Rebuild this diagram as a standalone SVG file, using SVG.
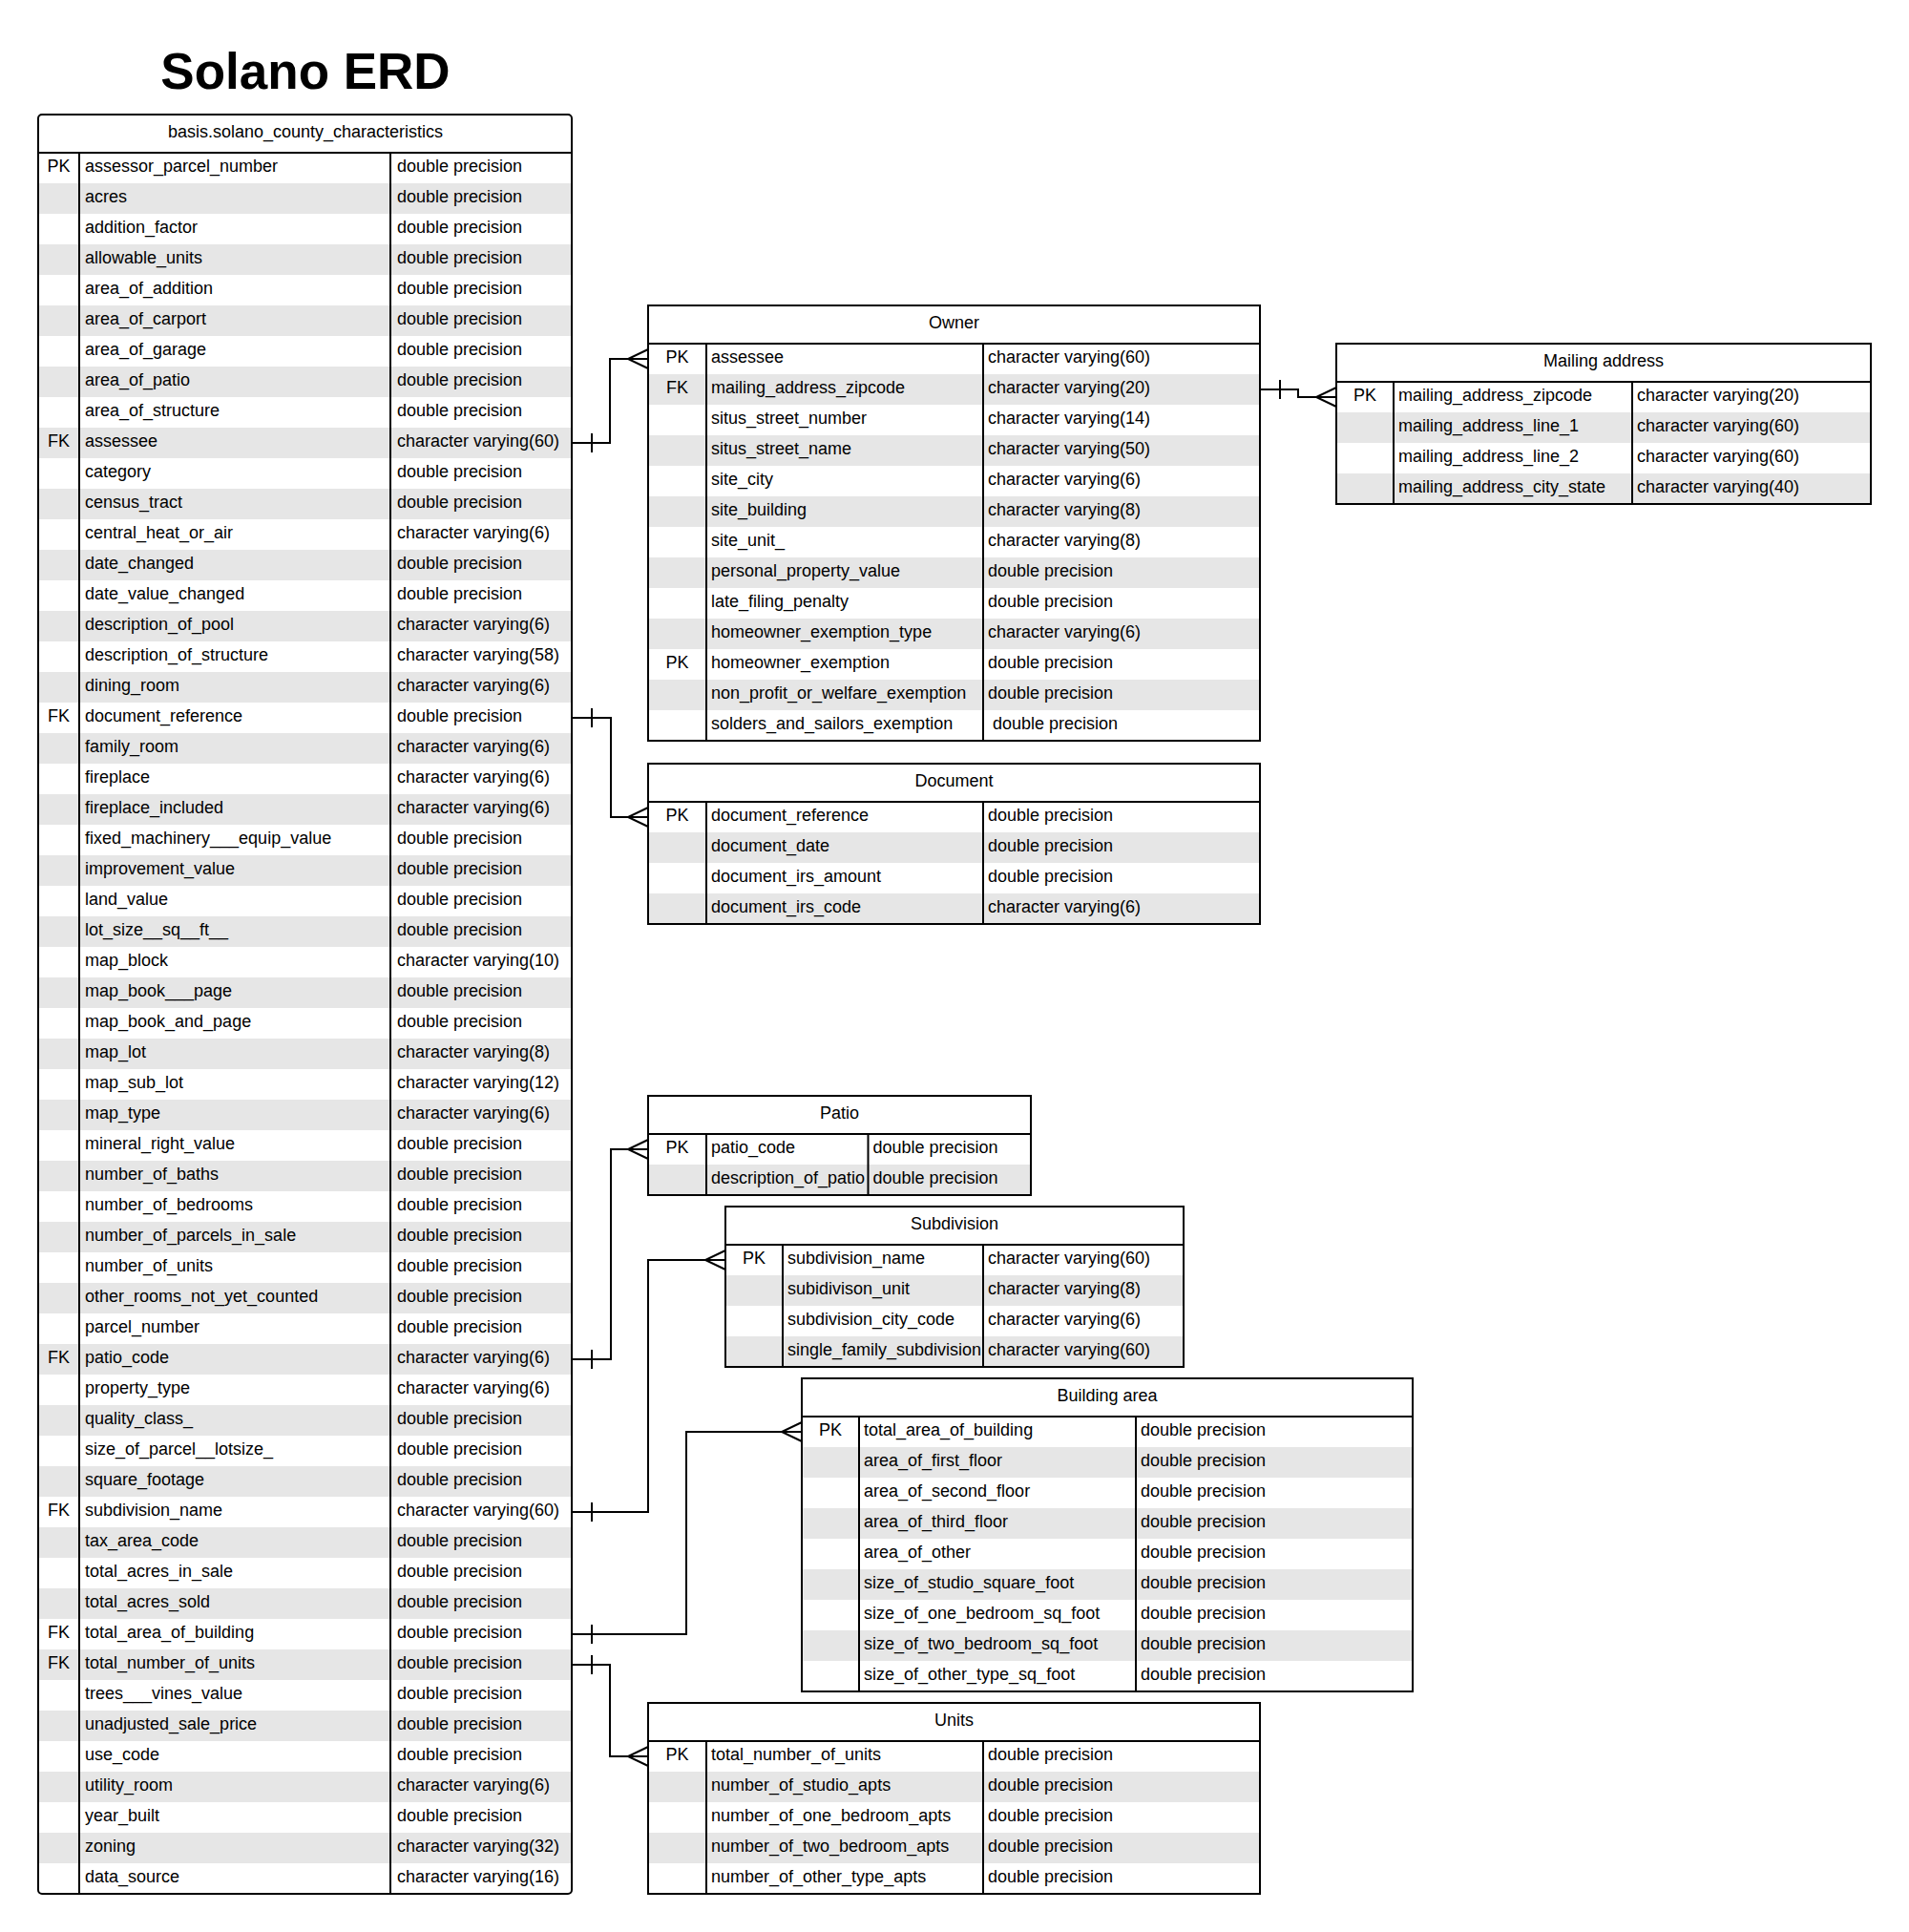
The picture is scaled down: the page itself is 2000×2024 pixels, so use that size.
<svg xmlns="http://www.w3.org/2000/svg" width="2000" height="2024" viewBox="0 0 2000 2024">
<style>
text{font-family:"Liberation Sans",Arial,sans-serif;font-size:18px;fill:#000}
.title{font-size:53px;font-weight:bold;text-anchor:middle}
.h{text-anchor:middle}
.k{text-anchor:middle}
.g{fill:#e6e6e6;stroke:none}
.box{fill:#fff;stroke:#000;stroke-width:2}
.ln{stroke:#000;stroke-width:2;fill:none}
.cn{stroke:#000;stroke-width:2;fill:none;marker-start:url(#one);marker-end:url(#many)}
</style>
<defs>
<marker id="many" markerUnits="userSpaceOnUse" viewBox="-24 -12 25 24" refX="0" refY="0" markerWidth="25" markerHeight="24" orient="auto" overflow="visible">
<path d="M0,-10 L-21,0 L0,10" fill="none" stroke="#000" stroke-width="2"/>
</marker>
<marker id="one" markerUnits="userSpaceOnUse" viewBox="0 -12 24 24" refX="0" refY="0" markerWidth="24" markerHeight="24" orient="auto" overflow="visible">
<path d="M21,-10 L21,10" fill="none" stroke="#000" stroke-width="2"/>
</marker>
</defs>
<rect width="2000" height="2024" fill="#fff"/>
<text class="title" x="320" y="93">Solano ERD</text>

<g id="basis_solano_county_characteristics">
<rect class="box" x="40" y="120" width="559" height="1864" rx="4"/>
<g>
<rect class="g" x="41" y="192" width="557" height="32"/><rect class="g" x="41" y="256" width="557" height="32"/><rect class="g" x="41" y="320" width="557" height="32"/><rect class="g" x="41" y="384" width="557" height="32"/><rect class="g" x="41" y="448" width="557" height="32"/><rect class="g" x="41" y="512" width="557" height="32"/><rect class="g" x="41" y="576" width="557" height="32"/><rect class="g" x="41" y="640" width="557" height="32"/><rect class="g" x="41" y="704" width="557" height="32"/><rect class="g" x="41" y="768" width="557" height="32"/><rect class="g" x="41" y="832" width="557" height="32"/><rect class="g" x="41" y="896" width="557" height="32"/><rect class="g" x="41" y="960" width="557" height="32"/><rect class="g" x="41" y="1024" width="557" height="32"/><rect class="g" x="41" y="1088" width="557" height="32"/><rect class="g" x="41" y="1152" width="557" height="32"/><rect class="g" x="41" y="1216" width="557" height="32"/><rect class="g" x="41" y="1280" width="557" height="32"/><rect class="g" x="41" y="1344" width="557" height="32"/><rect class="g" x="41" y="1408" width="557" height="32"/><rect class="g" x="41" y="1472" width="557" height="32"/><rect class="g" x="41" y="1536" width="557" height="32"/><rect class="g" x="41" y="1600" width="557" height="32"/><rect class="g" x="41" y="1664" width="557" height="32"/><rect class="g" x="41" y="1728" width="557" height="32"/><rect class="g" x="41" y="1792" width="557" height="32"/><rect class="g" x="41" y="1856" width="557" height="32"/><rect class="g" x="41" y="1920" width="557" height="32"/>
</g>
<path class="ln" d="M40,160 H599 M83,160 V1984 M409,160 V1984"/>
<text class="h" x="320" y="144">basis.solano_county_characteristics</text>
<g transform="translate(0,-1)">
<text class="k" x="61.5" y="181">PK</text>
<text class="k" x="61.5" y="469">FK</text>
<text class="k" x="61.5" y="757">FK</text>
<text class="k" x="61.5" y="1429">FK</text>
<text class="k" x="61.5" y="1589">FK</text>
<text class="k" x="61.5" y="1717">FK</text>
<text class="k" x="61.5" y="1749">FK</text>
<text x="89" y="181">assessor_parcel_number</text><text x="416" y="181">double precision</text>
<text x="89" y="213">acres</text><text x="416" y="213">double precision</text>
<text x="89" y="245">addition_factor</text><text x="416" y="245">double precision</text>
<text x="89" y="277">allowable_units</text><text x="416" y="277">double precision</text>
<text x="89" y="309">area_of_addition</text><text x="416" y="309">double precision</text>
<text x="89" y="341">area_of_carport</text><text x="416" y="341">double precision</text>
<text x="89" y="373">area_of_garage</text><text x="416" y="373">double precision</text>
<text x="89" y="405">area_of_patio</text><text x="416" y="405">double precision</text>
<text x="89" y="437">area_of_structure</text><text x="416" y="437">double precision</text>
<text x="89" y="469">assessee</text><text x="416" y="469">character varying(60)</text>
<text x="89" y="501">category</text><text x="416" y="501">double precision</text>
<text x="89" y="533">census_tract</text><text x="416" y="533">double precision</text>
<text x="89" y="565">central_heat_or_air</text><text x="416" y="565">character varying(6)</text>
<text x="89" y="597">date_changed</text><text x="416" y="597">double precision</text>
<text x="89" y="629">date_value_changed</text><text x="416" y="629">double precision</text>
<text x="89" y="661">description_of_pool</text><text x="416" y="661">character varying(6)</text>
<text x="89" y="693">description_of_structure</text><text x="416" y="693">character varying(58)</text>
<text x="89" y="725">dining_room</text><text x="416" y="725">character varying(6)</text>
<text x="89" y="757">document_reference</text><text x="416" y="757">double precision</text>
<text x="89" y="789">family_room</text><text x="416" y="789">character varying(6)</text>
<text x="89" y="821">fireplace</text><text x="416" y="821">character varying(6)</text>
<text x="89" y="853">fireplace_included</text><text x="416" y="853">character varying(6)</text>
<text x="89" y="885">fixed_machinery___equip_value</text><text x="416" y="885">double precision</text>
<text x="89" y="917">improvement_value</text><text x="416" y="917">double precision</text>
<text x="89" y="949">land_value</text><text x="416" y="949">double precision</text>
<text x="89" y="981">lot_size__sq__ft__</text><text x="416" y="981">double precision</text>
<text x="89" y="1013">map_block</text><text x="416" y="1013">character varying(10)</text>
<text x="89" y="1045">map_book___page</text><text x="416" y="1045">double precision</text>
<text x="89" y="1077">map_book_and_page</text><text x="416" y="1077">double precision</text>
<text x="89" y="1109">map_lot</text><text x="416" y="1109">character varying(8)</text>
<text x="89" y="1141">map_sub_lot</text><text x="416" y="1141">character varying(12)</text>
<text x="89" y="1173">map_type</text><text x="416" y="1173">character varying(6)</text>
<text x="89" y="1205">mineral_right_value</text><text x="416" y="1205">double precision</text>
<text x="89" y="1237">number_of_baths</text><text x="416" y="1237">double precision</text>
<text x="89" y="1269">number_of_bedrooms</text><text x="416" y="1269">double precision</text>
<text x="89" y="1301">number_of_parcels_in_sale</text><text x="416" y="1301">double precision</text>
<text x="89" y="1333">number_of_units</text><text x="416" y="1333">double precision</text>
<text x="89" y="1365">other_rooms_not_yet_counted</text><text x="416" y="1365">double precision</text>
<text x="89" y="1397">parcel_number</text><text x="416" y="1397">double precision</text>
<text x="89" y="1429">patio_code</text><text x="416" y="1429">character varying(6)</text>
<text x="89" y="1461">property_type</text><text x="416" y="1461">character varying(6)</text>
<text x="89" y="1493">quality_class_</text><text x="416" y="1493">double precision</text>
<text x="89" y="1525">size_of_parcel__lotsize_</text><text x="416" y="1525">double precision</text>
<text x="89" y="1557">square_footage</text><text x="416" y="1557">double precision</text>
<text x="89" y="1589">subdivision_name</text><text x="416" y="1589">character varying(60)</text>
<text x="89" y="1621">tax_area_code</text><text x="416" y="1621">double precision</text>
<text x="89" y="1653">total_acres_in_sale</text><text x="416" y="1653">double precision</text>
<text x="89" y="1685">total_acres_sold</text><text x="416" y="1685">double precision</text>
<text x="89" y="1717">total_area_of_building</text><text x="416" y="1717">double precision</text>
<text x="89" y="1749">total_number_of_units</text><text x="416" y="1749">double precision</text>
<text x="89" y="1781">trees___vines_value</text><text x="416" y="1781">double precision</text>
<text x="89" y="1813">unadjusted_sale_price</text><text x="416" y="1813">double precision</text>
<text x="89" y="1845">use_code</text><text x="416" y="1845">double precision</text>
<text x="89" y="1877">utility_room</text><text x="416" y="1877">character varying(6)</text>
<text x="89" y="1909">year_built</text><text x="416" y="1909">double precision</text>
<text x="89" y="1941">zoning</text><text x="416" y="1941">character varying(32)</text>
<text x="89" y="1973">data_source</text><text x="416" y="1973">character varying(16)</text>
</g>
</g>

<g id="owner">
<rect class="box" x="679" y="320" width="641" height="456"/>
<rect class="g" x="680" y="392" width="639" height="32"/><rect class="g" x="680" y="456" width="639" height="32"/><rect class="g" x="680" y="520" width="639" height="32"/><rect class="g" x="680" y="584" width="639" height="32"/><rect class="g" x="680" y="648" width="639" height="32"/><rect class="g" x="680" y="712" width="639" height="32"/>
<path class="ln" d="M679,360 H1320 M740,360 V776 M1030,360 V776"/>
<text class="h" x="999.5" y="344">Owner</text>
<g transform="translate(0,-1)">
<text class="k" x="709.5" y="381">PK</text>
<text class="k" x="709.5" y="413">FK</text>
<text class="k" x="709.5" y="701">PK</text>
<text x="745" y="381">assessee</text><text x="1035" y="381">character varying(60)</text>
<text x="745" y="413">mailing_address_zipcode</text><text x="1035" y="413">character varying(20)</text>
<text x="745" y="445">situs_street_number</text><text x="1035" y="445">character varying(14)</text>
<text x="745" y="477">situs_street_name</text><text x="1035" y="477">character varying(50)</text>
<text x="745" y="509">site_city</text><text x="1035" y="509">character varying(6)</text>
<text x="745" y="541">site_building</text><text x="1035" y="541">character varying(8)</text>
<text x="745" y="573">site_unit_</text><text x="1035" y="573">character varying(8)</text>
<text x="745" y="605">personal_property_value</text><text x="1035" y="605">double precision</text>
<text x="745" y="637">late_filing_penalty</text><text x="1035" y="637">double precision</text>
<text x="745" y="669">homeowner_exemption_type</text><text x="1035" y="669">character varying(6)</text>
<text x="745" y="701">homeowner_exemption</text><text x="1035" y="701">double precision</text>
<text x="745" y="733">non_profit_or_welfare_exemption</text><text x="1035" y="733">double precision</text>
<text x="745" y="765">solders_and_sailors_exemption</text><text x="1040" y="765">double precision</text>
</g>
</g>

<g id="mailing_address">
<rect class="box" x="1400" y="360" width="560" height="168"/>
<rect class="g" x="1401" y="432" width="558" height="32"/><rect class="g" x="1401" y="496" width="558" height="31"/>
<path class="ln" d="M1400,400 H1960 M1460,400 V528 M1710,400 V528"/>
<text class="h" x="1680" y="384">Mailing address</text>
<g transform="translate(0,-1)">
<text class="k" x="1430" y="421">PK</text>
<text x="1465" y="421">mailing_address_zipcode</text><text x="1715" y="421">character varying(20)</text>
<text x="1465" y="453">mailing_address_line_1</text><text x="1715" y="453">character varying(60)</text>
<text x="1465" y="485">mailing_address_line_2</text><text x="1715" y="485">character varying(60)</text>
<text x="1465" y="517">mailing_address_city_state</text><text x="1715" y="517">character varying(40)</text>
</g>
</g>

<g id="document">
<rect class="box" x="679" y="800" width="641" height="168"/>
<rect class="g" x="680" y="872" width="639" height="32"/><rect class="g" x="680" y="936" width="639" height="31"/>
<path class="ln" d="M679,840 H1320 M740,840 V968 M1030,840 V968"/>
<text class="h" x="999.5" y="824">Document</text>
<g transform="translate(0,-1)">
<text class="k" x="709.5" y="861">PK</text>
<text x="745" y="861">document_reference</text><text x="1035" y="861">double precision</text>
<text x="745" y="893">document_date</text><text x="1035" y="893">double precision</text>
<text x="745" y="925">document_irs_amount</text><text x="1035" y="925">double precision</text>
<text x="745" y="957">document_irs_code</text><text x="1035" y="957">character varying(6)</text>
</g>
</g>

<g id="patio">
<rect class="box" x="679" y="1148" width="401" height="104"/>
<rect class="g" x="680" y="1220" width="399" height="31"/>
<path class="ln" d="M679,1188 H1080 M740,1188 V1252 M909.5,1188 V1252"/>
<text class="h" x="879.5" y="1172">Patio</text>
<g transform="translate(0,-1)">
<text class="k" x="709.5" y="1209">PK</text>
<text x="745" y="1209">patio_code</text><text x="914.5" y="1209">double precision</text>
<text x="745" y="1241">description_of_patio</text><text x="914.5" y="1241">double precision</text>
</g>
</g>

<g id="subdivision">
<rect class="box" x="760" y="1264" width="480" height="168"/>
<rect class="g" x="761" y="1336" width="478" height="32"/><rect class="g" x="761" y="1400" width="478" height="31"/>
<path class="ln" d="M760,1304 H1240 M820,1304 V1432 M1030,1304 V1432"/>
<text class="h" x="1000" y="1288">Subdivision</text>
<g transform="translate(0,-1)">
<text class="k" x="790" y="1325">PK</text>
<text x="825" y="1325">subdivision_name</text><text x="1035" y="1325">character varying(60)</text>
<text x="825" y="1357">subidivison_unit</text><text x="1035" y="1357">character varying(8)</text>
<text x="825" y="1389">subdivision_city_code</text><text x="1035" y="1389">character varying(6)</text>
<text x="825" y="1421">single_family_subdivision</text><text x="1035" y="1421">character varying(60)</text>
</g>
</g>

<g id="building_area">
<rect class="box" x="840" y="1444" width="640" height="328"/>
<rect class="g" x="841" y="1516" width="638" height="32"/><rect class="g" x="841" y="1580" width="638" height="32"/><rect class="g" x="841" y="1644" width="638" height="32"/><rect class="g" x="841" y="1708" width="638" height="32"/>
<path class="ln" d="M840,1484 H1480 M900,1484 V1772 M1190,1484 V1772"/>
<text class="h" x="1160" y="1468">Building area</text>
<g transform="translate(0,-1)">
<text class="k" x="870" y="1505">PK</text>
<text x="905" y="1505">total_area_of_building</text><text x="1195" y="1505">double precision</text>
<text x="905" y="1537">area_of_first_floor</text><text x="1195" y="1537">double precision</text>
<text x="905" y="1569">area_of_second_floor</text><text x="1195" y="1569">double precision</text>
<text x="905" y="1601">area_of_third_floor</text><text x="1195" y="1601">double precision</text>
<text x="905" y="1633">area_of_other</text><text x="1195" y="1633">double precision</text>
<text x="905" y="1665">size_of_studio_square_foot</text><text x="1195" y="1665">double precision</text>
<text x="905" y="1697">size_of_one_bedroom_sq_foot</text><text x="1195" y="1697">double precision</text>
<text x="905" y="1729">size_of_two_bedroom_sq_foot</text><text x="1195" y="1729">double precision</text>
<text x="905" y="1761">size_of_other_type_sq_foot</text><text x="1195" y="1761">double precision</text>
</g>
</g>

<g id="units">
<rect class="box" x="679" y="1784" width="641" height="200"/>
<rect class="g" x="680" y="1856" width="639" height="32"/><rect class="g" x="680" y="1920" width="639" height="32"/>
<path class="ln" d="M679,1824 H1320 M740,1824 V1984 M1030,1824 V1984"/>
<text class="h" x="999.5" y="1808">Units</text>
<g transform="translate(0,-1)">
<text class="k" x="709.5" y="1845">PK</text>
<text x="745" y="1845">total_number_of_units</text><text x="1035" y="1845">double precision</text>
<text x="745" y="1877">number_of_studio_apts</text><text x="1035" y="1877">double precision</text>
<text x="745" y="1909">number_of_one_bedroom_apts</text><text x="1035" y="1909">double precision</text>
<text x="745" y="1941">number_of_two_bedroom_apts</text><text x="1035" y="1941">double precision</text>
<text x="745" y="1973">number_of_other_type_apts</text><text x="1035" y="1973">double precision</text>
</g>
</g>

<g id="connectors">
<path class="cn" d="M599,464 H639 V376 H679"/>
<path class="cn" d="M599,752 H640 V856 H679"/>
<path class="cn" d="M599,1424 H640 V1204 H679"/>
<path class="cn" d="M599,1584 H679 V1320 H760"/>
<path class="cn" d="M599,1712 H719 V1500 H840"/>
<path class="cn" d="M599,1744 H639 V1840 H679"/>
<path class="cn" d="M1320,408 H1360 V416 H1400"/>
</g>
</svg>
